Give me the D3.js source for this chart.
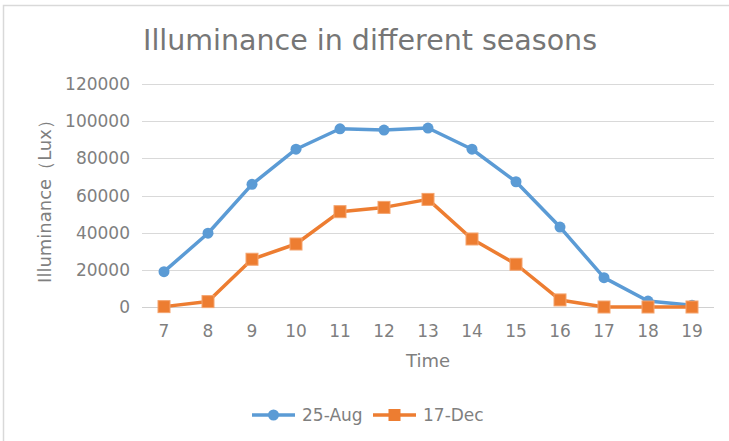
<!DOCTYPE html>
<html>
<head>
<meta charset="utf-8">
<script src="https://cdn.jsdelivr.net/npm/d3@7"></script>
<style>
  body { margin: 0; background: #fff; }
  text { font-family: "DejaVu Sans", sans-serif; fill: #7f7f7f; }
</style>
</head>
<body>
<div class="chart"></div>
<script>
const hours = ['7', '8', '9', '10', '11', '12', '13', '14', '15', '16', '17', '18', '19'];
const aug = [19000, 39700, 66000, 84900, 95900, 95200, 96300, 84900, 67400, 43000, 15800, 3200, 1000];
const dec = [200, 2900, 25700, 33900, 51300, 53600, 57900, 36600, 23000, 3800, 0, 0, 0];
const yTicks = [0, 20000, 40000, 60000, 80000, 100000, 120000];
const seriesNames = ['25-Aug', '17-Dec'];
const colors = ['#5b9bd5', '#ed7d31'];

const w = 729, h = 441;
const svg = d3.select('.chart').append('svg')
  .attr('width', w)
  .attr('height', h);

// chart border (only top + left visible in the shot)
svg.append('path')
  .attr('d', 'M3.5,441 V5.5 H729')
  .attr('fill', 'none')
  .attr('stroke', '#d9d9d9')
  .attr('stroke-width', 1.5);

const x = d3.scaleBand().domain(hours).range([142, 714]);
const y = d3.scaleLinear().domain([0, 120000]).range([307, 84]);

// title
svg.append('text')
  .attr('x', 370).attr('y', 50)
  .attr('text-anchor', 'middle')
  .style('font-size', '28.5px')
  .style('fill', '#767676')
  .text('Illuminance in different seasons');

// gridlines
svg.append('g')
  .selectAll('line')
  .data(yTicks.filter(d => d > 0))
  .enter().append('line')
    .attr('x1', 142).attr('x2', 714)
    .attr('y1', d => Math.round(y(d)) + 0.5)
    .attr('y2', d => Math.round(y(d)) + 0.5)
    .attr('stroke', '#d9d9d9')
    .attr('stroke-width', 1);

// x axis baseline
svg.append('line')
  .attr('x1', 142).attr('x2', 714)
  .attr('y1', y(0) + 0.5).attr('y2', y(0) + 0.5)
  .attr('stroke', '#d0d0d0');

// y tick labels
svg.append('g')
  .selectAll('text')
  .data(yTicks)
  .enter().append('text')
    .attr('x', 130)
    .attr('y', d => y(d) + 6)
    .attr('text-anchor', 'end')
    .style('font-size', '17px')
    .text(d => d);

// x tick labels
svg.append('g')
  .selectAll('text')
  .data(hours)
  .enter().append('text')
    .attr('x', d => x(d) + x.bandwidth() / 2)
    .attr('y', 337)
    .attr('text-anchor', 'middle')
    .style('font-size', '17px')
    .text(d => d);

// axis titles
svg.append('text')
  .attr('x', 428).attr('y', 367)
  .attr('text-anchor', 'middle')
  .style('font-size', '18px')
  .text('Time');

svg.append('text')
  .attr('transform', 'translate(51,197) rotate(-90)')
  .attr('text-anchor', 'middle')
  .style('font-size', '18px')
  .text('Illuminance（Lux）');

// series
const cx = (d, i) => x(hours[i]) + x.bandwidth() / 2;
const line = d3.line().x(cx).y(d => y(d));

[aug, dec].forEach((vals, s) => {
  svg.append('path')
    .datum(vals)
    .attr('d', line)
    .attr('fill', 'none')
    .attr('stroke', colors[s])
    .attr('stroke-width', 3.5)
    .attr('stroke-linejoin', 'round');
});

svg.append('g')
  .selectAll('circle')
  .data(aug)
  .enter().append('circle')
    .attr('cx', cx)
    .attr('cy', d => y(d))
    .attr('r', 5.5)
    .style('fill', colors[0]);

svg.append('g')
  .selectAll('rect')
  .data(dec)
  .enter().append('rect')
    .attr('x', (d, i) => cx(d, i) - 6)
    .attr('y', d => y(d) - 6)
    .attr('width', 12).attr('height', 12)
    .style('fill', colors[1])
    .style('stroke', '#f4a46e')
    .style('stroke-width', 1);

// legend
const legend = svg.append('g')
  .selectAll('g')
  .data(seriesNames)
  .enter().append('g')
    .attr('transform', (d, i) => `translate(${252 + i * 121},415)`);

legend.append('line')
  .attr('x1', 0).attr('x2', 43)
  .attr('stroke', (d, i) => colors[i])
  .attr('stroke-width', 3.5);

legend.filter((d, i) => i === 0).append('circle')
  .attr('cx', 21.5).attr('r', 5.5)
  .style('fill', colors[0]);

legend.filter((d, i) => i === 1).append('rect')
  .attr('x', 15.5).attr('y', -6)
  .attr('width', 12).attr('height', 12)
  .style('fill', colors[1]);

legend.append('text')
  .attr('x', 50).attr('y', 6)
  .style('font-size', '17px')
  .text(d => d);
</script>
</body>
</html>
